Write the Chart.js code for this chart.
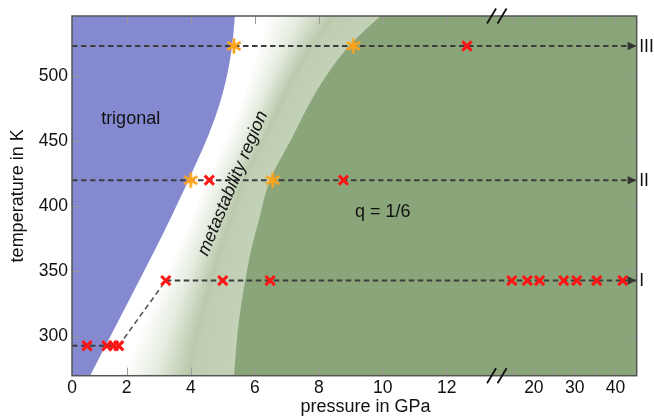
<!DOCTYPE html>
<html><head><meta charset="utf-8">
<style>html,body{margin:0;padding:0;background:#fff;}#wrap{width:654px;height:416px;}</style>
<script src="https://cdn.jsdelivr.net/npm/chart.js@4.4.1/dist/chart.umd.min.js"></script>
</head><body><div id="wrap"><canvas id="c" width="654" height="416"></canvas></div>
<script>
// ---------------- data ----------------
const X_TICK_LABELS = [0, 2, 4, 6, 8, 10, 12, 20, 30, 40];
const X_MINOR_TICKS = [15, 25, 35];
const Y_TICK_LABELS = [300, 350, 400, 450, 500];
const T_III = 523, T_II = 420, T_I = 343, T_BASE = 293;
const starsIII = [5.35, 9.08];
const crossesIII = [12.63];
const starsII = [4.0, 6.56];
const crossesII = [4.58, 8.77];
const crossesI = [3.22, 5.0, 6.48, 14.6, 18.4, 21.4, 27.3, 30.5, 35.4, 41.8];
const crossesBase = [0.76, 1.38, 1.59, 1.75];
// phase boundaries (pressure in GPa, temperature in K)
const trigonalP = [5.38, 5.29, 5.13, 4.88, 4.54, 4.13, 3.70, 2.88, 0.85];
const trigonalT = [546, 523, 500, 476.9, 453.9, 430.9, 407.9, 366.5, 269.8];
const q16P = [9.92, 8.95, 8.23, 7.67, 7.13, 6.48, 6.13, 5.82, 5.51, 5.35];
const q16T = [546, 523, 500, 476.9, 450.9, 420.2, 389.5, 358.8, 312.7, 269.8];
// axis ranges
const P_MIN = 0.29, P_MAX = 45.2, T_MIN = 270, T_MAX = 546;

// ---------------- broken pressure axis ----------------
const BREAK_V = 13.57;          // end of the left (0..13.5 GPa) segment
const RIGHT_V20 = 14.72, RIGHT_K = 0.1275; // right segment: compressed
function toAxis(p){ return p <= BREAK_V ? p : RIGHT_V20 + (p - 20) * RIGHT_K; }
const X_MIN_V = toAxis(P_MIN), X_MAX_V = toAxis(P_MAX);

const RED = '#ff1414', ORANGE = '#ffa31a';
function makeStar(){
  const c = document.createElement('canvas'); c.width = 18; c.height = 18;
  const g = c.getContext('2d'); g.strokeStyle = ORANGE; g.lineWidth = 2.7;
  const r = 7.6;
  [90, 30, 150].forEach(d => { const a = d*Math.PI/180; g.beginPath();
    g.moveTo(9 - r*Math.cos(a), 9 - r*Math.sin(a)); g.lineTo(9 + r*Math.cos(a), 9 + r*Math.sin(a)); g.stroke(); });
  return c;
}
const STAR = makeStar();
const pts = (arr, T) => arr.map(p => ({x: toAxis(p), y: T}));

function crossSet(data){ return {type:'scatter', data, pointStyle:'crossRot', pointRadius:6.5, borderColor:RED, backgroundColor:RED, pointBorderWidth:3, borderWidth:3, order:0}; }
function starSet(data){ return {type:'scatter', data, pointStyle:STAR, pointRadius:9, order:0}; }
function lineSet(data, color, w){ return {type:'line', data, borderColor:color, borderWidth:w, borderDash:[5.5,3.5], pointRadius:0, fill:false, tension:0, order:1}; }

const datasets = [
  crossSet(pts(crossesIII, T_III)), crossSet(pts(crossesII, T_II)),
  crossSet(pts(crossesI, T_I)), crossSet(pts(crossesBase, T_BASE)),
  starSet(pts(starsIII, T_III)), starSet(pts(starsII, T_II)),
  lineSet([{x:X_MIN_V,y:T_III},{x:X_MAX_V,y:T_III}], '#3d3d3d', 2),
  lineSet([{x:X_MIN_V,y:T_II},{x:X_MAX_V,y:T_II}], '#3d3d3d', 2),
  lineSet([{x:toAxis(crossesI[0]),y:T_I},{x:X_MAX_V,y:T_I}], '#3d3d3d', 2),
  lineSet([{x:X_MIN_V,y:T_BASE},{x:toAxis(crossesBase[crossesBase.length-1]),y:T_BASE}], '#3d3d3d', 2),
  lineSet([{x:toAxis(crossesBase[crossesBase.length-1]),y:T_BASE},{x:toAxis(crossesI[0]),y:T_I}], '#585858', 1.6)
];

// ---------------- helpers ----------------
function catmull(P, seg){
  const out = [];
  for (let i = 0; i < P.length-1; i++){
    const p0 = P[Math.max(i-1,0)], p1 = P[i], p2 = P[i+1], p3 = P[Math.min(i+2,P.length-1)];
    for (let s = 0; s < seg; s++){
      const t = s/seg, t2 = t*t, t3 = t2*t;
      const f = k => 0.5*((2*p1[k]) + (-p0[k]+p2[k])*t + (2*p0[k]-5*p1[k]+4*p2[k]-p3[k])*t2 + (-p0[k]+3*p1[k]-3*p2[k]+p3[k])*t3);
      out.push({x:f('x'), y:f('y')});
    }
  }
  out.push(P[P.length-1]);
  return out;
}
function xAtY(poly, y){
  for (let i = 0; i < poly.length-1; i++){
    const a = poly[i], b = poly[i+1];
    if ((y >= a.y && y <= b.y) || i === poly.length-2){
      const t = (y - a.y)/((b.y - a.y) || 1e-6); return a.x + t*(b.x - a.x);
    }
  }
  return poly[0].x;
}

const bgPlugin = {
  id:'phaseBg',
  beforeDatasetsDraw(chart){
    const {ctx, chartArea:a, scales:{x, y}} = chart;
    const toPx = (P, T) => P.map((p,i) => ({x:x.getPixelForValue(toAxis(p)), y:y.getPixelForValue(T[i])}));
    const B = catmull(toPx(trigonalP, trigonalT), 14);
    const G = catmull(toPx(q16P, q16T), 14);
    ctx.save();
    ctx.beginPath(); ctx.rect(a.left, a.top, a.right-a.left, a.bottom-a.top); ctx.clip();
    ctx.fillStyle = '#ffffff'; ctx.fillRect(a.left, a.top, a.right-a.left, a.bottom-a.top);
    for (let yy = Math.floor(a.top); yy < Math.ceil(a.bottom); yy++){
      const yc = yy + 0.5, xb = xAtY(B, yc), xg = xAtY(G, yc);
      const g = ctx.createLinearGradient(xb, 0, xg, 0);
      g.addColorStop(0, '#ffffff'); g.addColorStop(0.22, '#ffffff');
      g.addColorStop(0.45, '#e5ecdf'); g.addColorStop(0.68, '#b9c9ac');
      g.addColorStop(0.72, '#bfceb3'); g.addColorStop(1, '#c3d1b7');
      ctx.fillStyle = g; ctx.fillRect(xb-1, yy, xg-xb+2, 1);
    }
    ctx.fillStyle = '#8589cf';
    ctx.beginPath(); ctx.moveTo(a.left-3, a.top-6); ctx.lineTo(B[0].x, a.top-6);
    B.forEach(p => ctx.lineTo(p.x, p.y));
    ctx.lineTo(B[B.length-1].x, a.bottom+6); ctx.lineTo(a.left-3, a.bottom+6); ctx.closePath(); ctx.fill();
    ctx.fillStyle = '#8aa57a';
    ctx.beginPath(); ctx.moveTo(G[0].x, a.top-6);
    G.forEach(p => ctx.lineTo(p.x, p.y));
    ctx.lineTo(G[G.length-1].x, a.bottom+6); ctx.lineTo(a.right+3, a.bottom+6); ctx.lineTo(a.right+3, a.top-6); ctx.closePath(); ctx.fill();
    ctx.restore();
  },
  afterDatasetsDraw(chart){
    const {ctx, chartArea:a, scales:{x, y}} = chart;
    ctx.save();
    // inward tick marks
    ctx.strokeStyle = '#9a9a9a'; ctx.lineWidth = 1;
    const xt = X_TICK_LABELS.filter(v => v > 0).concat(X_MINOR_TICKS);
    xt.forEach(p => { const X = Math.round(x.getPixelForValue(toAxis(p))) + 0.5;
      ctx.beginPath(); ctx.moveTo(X, a.top); ctx.lineTo(X, a.top+8); ctx.moveTo(X, a.bottom); ctx.lineTo(X, a.bottom-8); ctx.stroke(); });
    Y_TICK_LABELS.forEach(T => { const Y = Math.round(y.getPixelForValue(T)) + 0.5;
      ctx.beginPath(); ctx.moveTo(a.left, Y); ctx.lineTo(a.left+8, Y); ctx.moveTo(a.right, Y); ctx.lineTo(a.right-8, Y); ctx.stroke(); });
    // frame
    ctx.strokeStyle = '#555'; ctx.lineWidth = 1.5;
    ctx.strokeRect(a.left, a.top, a.right-a.left, a.bottom-a.top);
    // axis break marks
    const bx = x.getPixelForValue(BREAK_V);
    ctx.strokeStyle = '#111'; ctx.lineWidth = 1.8;
    [a.top, a.bottom].forEach(Y => { [-5.5, 5].forEach(dx => { ctx.beginPath();
      ctx.moveTo(bx+dx-4.5, Y+7.5); ctx.lineTo(bx+dx+4.5, Y-7.5); ctx.stroke(); }); });
    // arrow heads and row labels
    [[T_III,'III'],[T_II,'II'],[T_I,'I']].forEach(([T, lab]) => {
      const Y = y.getPixelForValue(T);
      ctx.fillStyle = '#333'; ctx.beginPath(); ctx.moveTo(a.right-0.5, Y); ctx.lineTo(a.right-9, Y-4.3); ctx.lineTo(a.right-9, Y+4.3); ctx.closePath(); ctx.fill();
      ctx.fillStyle = '#111'; ctx.font = '17.5px "Liberation Sans", Arial, sans-serif';
      ctx.textAlign = 'left'; ctx.textBaseline = 'middle'; ctx.fillText(lab, a.right+2.5, Y+1);
    });
    // region labels
    ctx.fillStyle = '#111'; ctx.textBaseline = 'alphabetic';
    ctx.font = '18px "Liberation Sans", Arial, sans-serif';
    ctx.fillText('trigonal', x.getPixelForValue(toAxis(1.2)), y.getPixelForValue(463.1));
    ctx.fillText('q = 1/6', x.getPixelForValue(toAxis(9.13)), y.getPixelForValue(391.5));
    ctx.save();
    ctx.translate(x.getPixelForValue(toAxis(5.46)), y.getPixelForValue(416.1));
    ctx.rotate(-67.2*Math.PI/180);
    ctx.font = 'italic 18px "Liberation Sans", Arial, sans-serif'; ctx.textAlign = 'center';
    ctx.fillText('metastability region', 0, 0);
    ctx.restore();
    // axis titles
    ctx.font = '18px "Liberation Sans", Arial, sans-serif'; ctx.textAlign = 'center';
    ctx.fillText('pressure in GPa', 365.5, 412);
    ctx.save(); ctx.translate(23, (a.top+a.bottom)/2); ctx.rotate(-Math.PI/2);
    ctx.fillText('temperature in K', 0, 0); ctx.restore();
    ctx.restore();
  }
};

Chart.defaults.font.family = '"Liberation Sans", Arial, sans-serif';
Chart.defaults.color = '#111';
new Chart(document.getElementById('c'), {
  type:'scatter',
  data:{datasets},
  options:{
    responsive:false, animation:false, events:[], devicePixelRatio:1,
    layout:{padding:{left:0, right:17.3, top:16, bottom:0}},
    plugins:{legend:{display:false}, tooltip:{enabled:false}},
    scales:{
      x:{type:'linear', min:X_MIN_V, max:X_MAX_V,
        afterBuildTicks(s){ s.ticks = X_TICK_LABELS.map(p => ({value: Math.max(toAxis(p), X_MIN_V)})); },
        afterFit(s){ s.height = 40.3; },
        grid:{display:false, drawTicks:false}, border:{display:false},
        ticks:{autoSkip:false, maxRotation:0, padding:2, font:{size:17.5}, color:'#111',
          callback:(v, i) => String(X_TICK_LABELS[i])}},
      y:{type:'linear', min:T_MIN, max:T_MAX,
        afterBuildTicks(s){ s.ticks = Y_TICK_LABELS.map(v => ({value:v})); },
        afterFit(s){ s.width = 72; },
        grid:{display:false, drawTicks:false}, border:{display:false},
        ticks:{padding:4, font:{size:17.5}, color:'#111', callback:v => String(v)}}
    }
  },
  plugins:[bgPlugin]
});
</script></body></html>
